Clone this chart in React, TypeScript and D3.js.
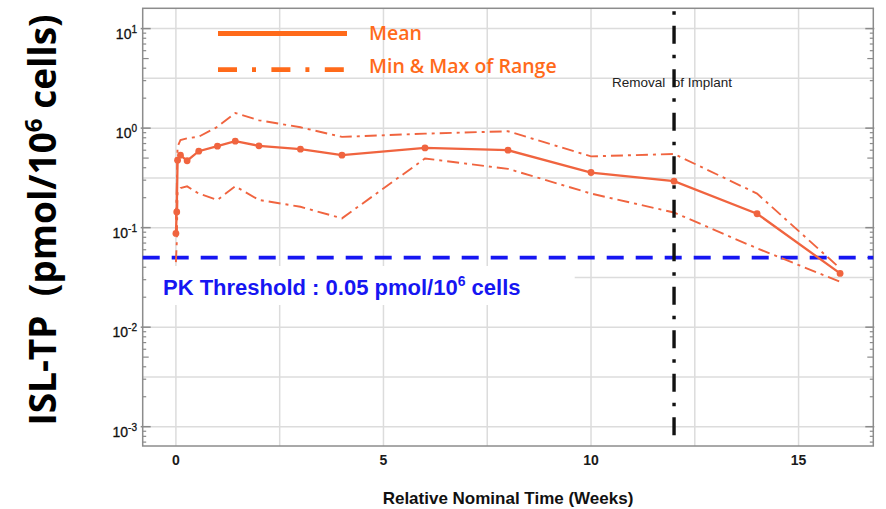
import React from "react";
import * as d3 from "d3";

// Nominal sampling times (weeks) and ISL-TP concentrations (pmol/10^6 cells)
const weeks = [0, 0.02, 0.04, 0.11, 0.27, 0.55, 1, 1.43, 2, 3, 4, 6, 8, 10, 12, 14, 16];
const meanConc = [0.0875, 0.144, 0.476, 0.535, 0.47, 0.586, 0.658, 0.74, 0.664, 0.614, 0.535, 0.633, 0.6, 0.358, 0.293, 0.138, 0.0347];
const maxConc = [0.12, 0.25, 0.65, 0.76, 0.79, 0.82, 1.03, 1.42, 1.2, 1.02, 0.816, 0.88, 0.93, 0.52, 0.55, 0.22, 0.039];
const minConc = [0.045, 0.07, 0.23, 0.25, 0.26, 0.22, 0.19, 0.26, 0.19, 0.162, 0.124, 0.495, 0.39, 0.22, 0.142, 0.062, 0.0286];

const xTicks = [0, 5, 10, 15];
const xGrid = [0, 2.5, 5, 7.5, 10, 12.5, 15];
const yDecades = [-3, -2, -1, 0, 1];
const yGridExp = [-3, -2.5, -2, -1.5, -1, -0.5, 0, 0.5, 1];

const legendLabels = ["Mean", "Min & Max of Range"];
const thresholdValue = 0.05;
const implantRemovalWeek = 12;

const W = 886;
const H = 509;
const plot = { left: 142.7, right: 873.3, top: 8.3, bottom: 446 };

const dataColor = "#f0643f";
const legendColor = "#ff6a1a";
const blue = "#1616f2";
const gridColor = "#dcdcdc";
const frameColor = "#8c8c8c";

export default function App() {
  const x = d3.scaleLinear().domain([-0.8, 16.8]).range([plot.left, plot.right]);
  const y = d3
    .scaleLog()
    .domain([Math.pow(10, -3.194), Math.pow(10, 1.204)])
    .range([plot.bottom, plot.top]);

  const line = d3
    .line<number>()
    .x((_, i) => x(weeks[i]))
    .y((v) => y(v));

  const minorTicks: { v: number; m: number }[] = [];
  for (let k = -4; k <= 1; k++) {
    for (let m = 2; m <= 9; m++) {
      const v = m * Math.pow(10, k);
      const [d0, d1] = y.domain();
      if (v > d0 && v < d1) minorTicks.push({ v, m });
    }
  }

  const sans = "'Liberation Sans', Arial, sans-serif";
  const calibriLike = "'Open Sans', 'Noto Sans', sans-serif";
  const dashDot = "12,5,3,5";

  return (
    <svg
      width={W}
      height={H}
      viewBox={`0 0 ${W} ${H}`}
      style={{ position: "absolute", left: 0, top: 0, background: "#fff" }}
    >
      {/* grid */}
      {xGrid.map((t) => (
        <line key={"gx" + t} x1={x(t)} x2={x(t)} y1={plot.top} y2={plot.bottom} stroke={gridColor} strokeWidth={1.5} />
      ))}
      {yGridExp.map((e) => (
        <line
          key={"gy" + e}
          x1={plot.left}
          x2={plot.right}
          y1={y(Math.pow(10, e))}
          y2={y(Math.pow(10, e))}
          stroke={gridColor}
          strokeWidth={1.5}
        />
      ))}

      {/* backing for the threshold label */}
      <rect x={plot.left + 1} y={266} width={431} height={39} fill="#fff" />

      {/* axis ticks, left and right */}
      {yDecades.map((e) => (
        <g key={"mt" + e}>
          <line x1={plot.left - 2} x2={plot.left + 8} y1={y(Math.pow(10, e))} y2={y(Math.pow(10, e))} stroke="#8a8a8a" strokeWidth={1.5} />
          <line x1={plot.right - 8} x2={plot.right + 1} y1={y(Math.pow(10, e))} y2={y(Math.pow(10, e))} stroke="#8a8a8a" strokeWidth={1.5} />
        </g>
      ))}
      {minorTicks.map(({ v, m }) => {
        const len = m === 5 ? 6 : 3.5;
        return (
          <g key={"mn" + v}>
            <line x1={plot.left} x2={plot.left + len} y1={y(v)} y2={y(v)} stroke="#8a8a8a" strokeWidth={1.2} />
            <line x1={plot.right - len} x2={plot.right} y1={y(v)} y2={y(v)} stroke="#8a8a8a" strokeWidth={1.2} />
          </g>
        );
      })}

      {/* frame */}
      <rect
        x={plot.left}
        y={plot.top}
        width={plot.right - plot.left}
        height={plot.bottom - plot.top}
        fill="none"
        stroke={frameColor}
        strokeWidth={1.5}
      />

      {/* y tick labels */}
      {yDecades.map((e) => (
        <text
          key={"yl" + e}
          x={137}
          y={y(Math.pow(10, e)) + 10}
          textAnchor="end"
          fontFamily={sans}
          fontSize={14}
          fill="#111"
          stroke="#111"
          strokeWidth={0.3}
        >
          10
          <tspan fontSize={10} dy={-6}>
            {e < 0 ? "-" + Math.abs(e) : String(e)}
          </tspan>
        </text>
      ))}

      {/* x tick labels */}
      {xTicks.map((t) => (
        <text key={"xl" + t} x={x(t)} y={465} textAnchor="middle" fontFamily={sans} fontSize={14} fontWeight="bold" fill="#1a1a1a">
          {t}
        </text>
      ))}

      {/* threshold */}
      <line
        x1={plot.left}
        x2={plot.right}
        y1={y(thresholdValue)}
        y2={y(thresholdValue)}
        stroke={blue}
        strokeWidth={3.8}
        strokeDasharray="17,12"
      />
      <text x={163} y={295} fontFamily={sans} fontSize={22} fontWeight="bold" fill={blue}>
        PK Threshold : 0.05 pmol/10
        <tspan fontSize={14} dy={-9}>6</tspan>
        <tspan dy={9}> cells</tspan>
      </text>

      {/* concentration profiles */}
      <path d={line(maxConc) ?? ""} fill="none" stroke={dataColor} strokeWidth={1.9} strokeDasharray={dashDot} />
      <path d={line(minConc) ?? ""} fill="none" stroke={dataColor} strokeWidth={1.9} strokeDasharray={dashDot} />
      <path d={line(meanConc) ?? ""} fill="none" stroke={dataColor} strokeWidth={2.3} />
      {meanConc.map((v, i) => (
        <circle key={"pt" + i} cx={x(weeks[i])} cy={y(v)} r={3.4} fill={dataColor} />
      ))}

      {/* implant removal marker */}
      <text x={612} y={87} fontFamily={sans} fontSize={13.5} fill="#222" style={{ whiteSpace: "pre" }}>
        {"Removal  of Implant"}
      </text>
      <line
        x1={x(implantRemovalWeek)}
        x2={x(implantRemovalWeek)}
        y1={plot.top}
        y2={plot.bottom}
        stroke="#111"
        strokeWidth={3.4}
        strokeDasharray="18,11,3.5,11"
        strokeDashoffset={26}
      />

      {/* legend */}
      <line x1={218} x2={347} y1={33.5} y2={33.5} stroke={legendColor} strokeWidth={4.8} />
      <text x={369} y={40} fontFamily={calibriLike} fontSize={19.5} fontWeight={600} fill={legendColor}>
        {legendLabels[0]}
      </text>
      <line x1={218} x2={347} y1={69.7} y2={69.7} stroke={legendColor} strokeWidth={4.8} strokeDasharray="19,15,4,15.4" />
      <text x={369} y={73} fontFamily={calibriLike} fontSize={19.5} fontWeight={600} fill={legendColor}>
        {legendLabels[1]}
      </text>

      {/* axis titles */}
      <text x={508} y={504} textAnchor="middle" fontFamily={sans} fontSize={17} fontWeight="bold" fill="#111">
        Relative Nominal Time (Weeks)
      </text>
      <text
        transform="translate(56,220) rotate(-90)"
        textAnchor="middle"
        fontFamily={calibriLike}
        fontSize={37}
        fontWeight="bold"
        fill="#000"
        style={{ whiteSpace: "pre" }}
      >
        {"ISL-TP  (pmol/10"}
        <tspan fontSize={24} dy={-14}>6</tspan>
        <tspan dy={14}>{" cells)"}</tspan>
      </text>
    </svg>
  );
}
